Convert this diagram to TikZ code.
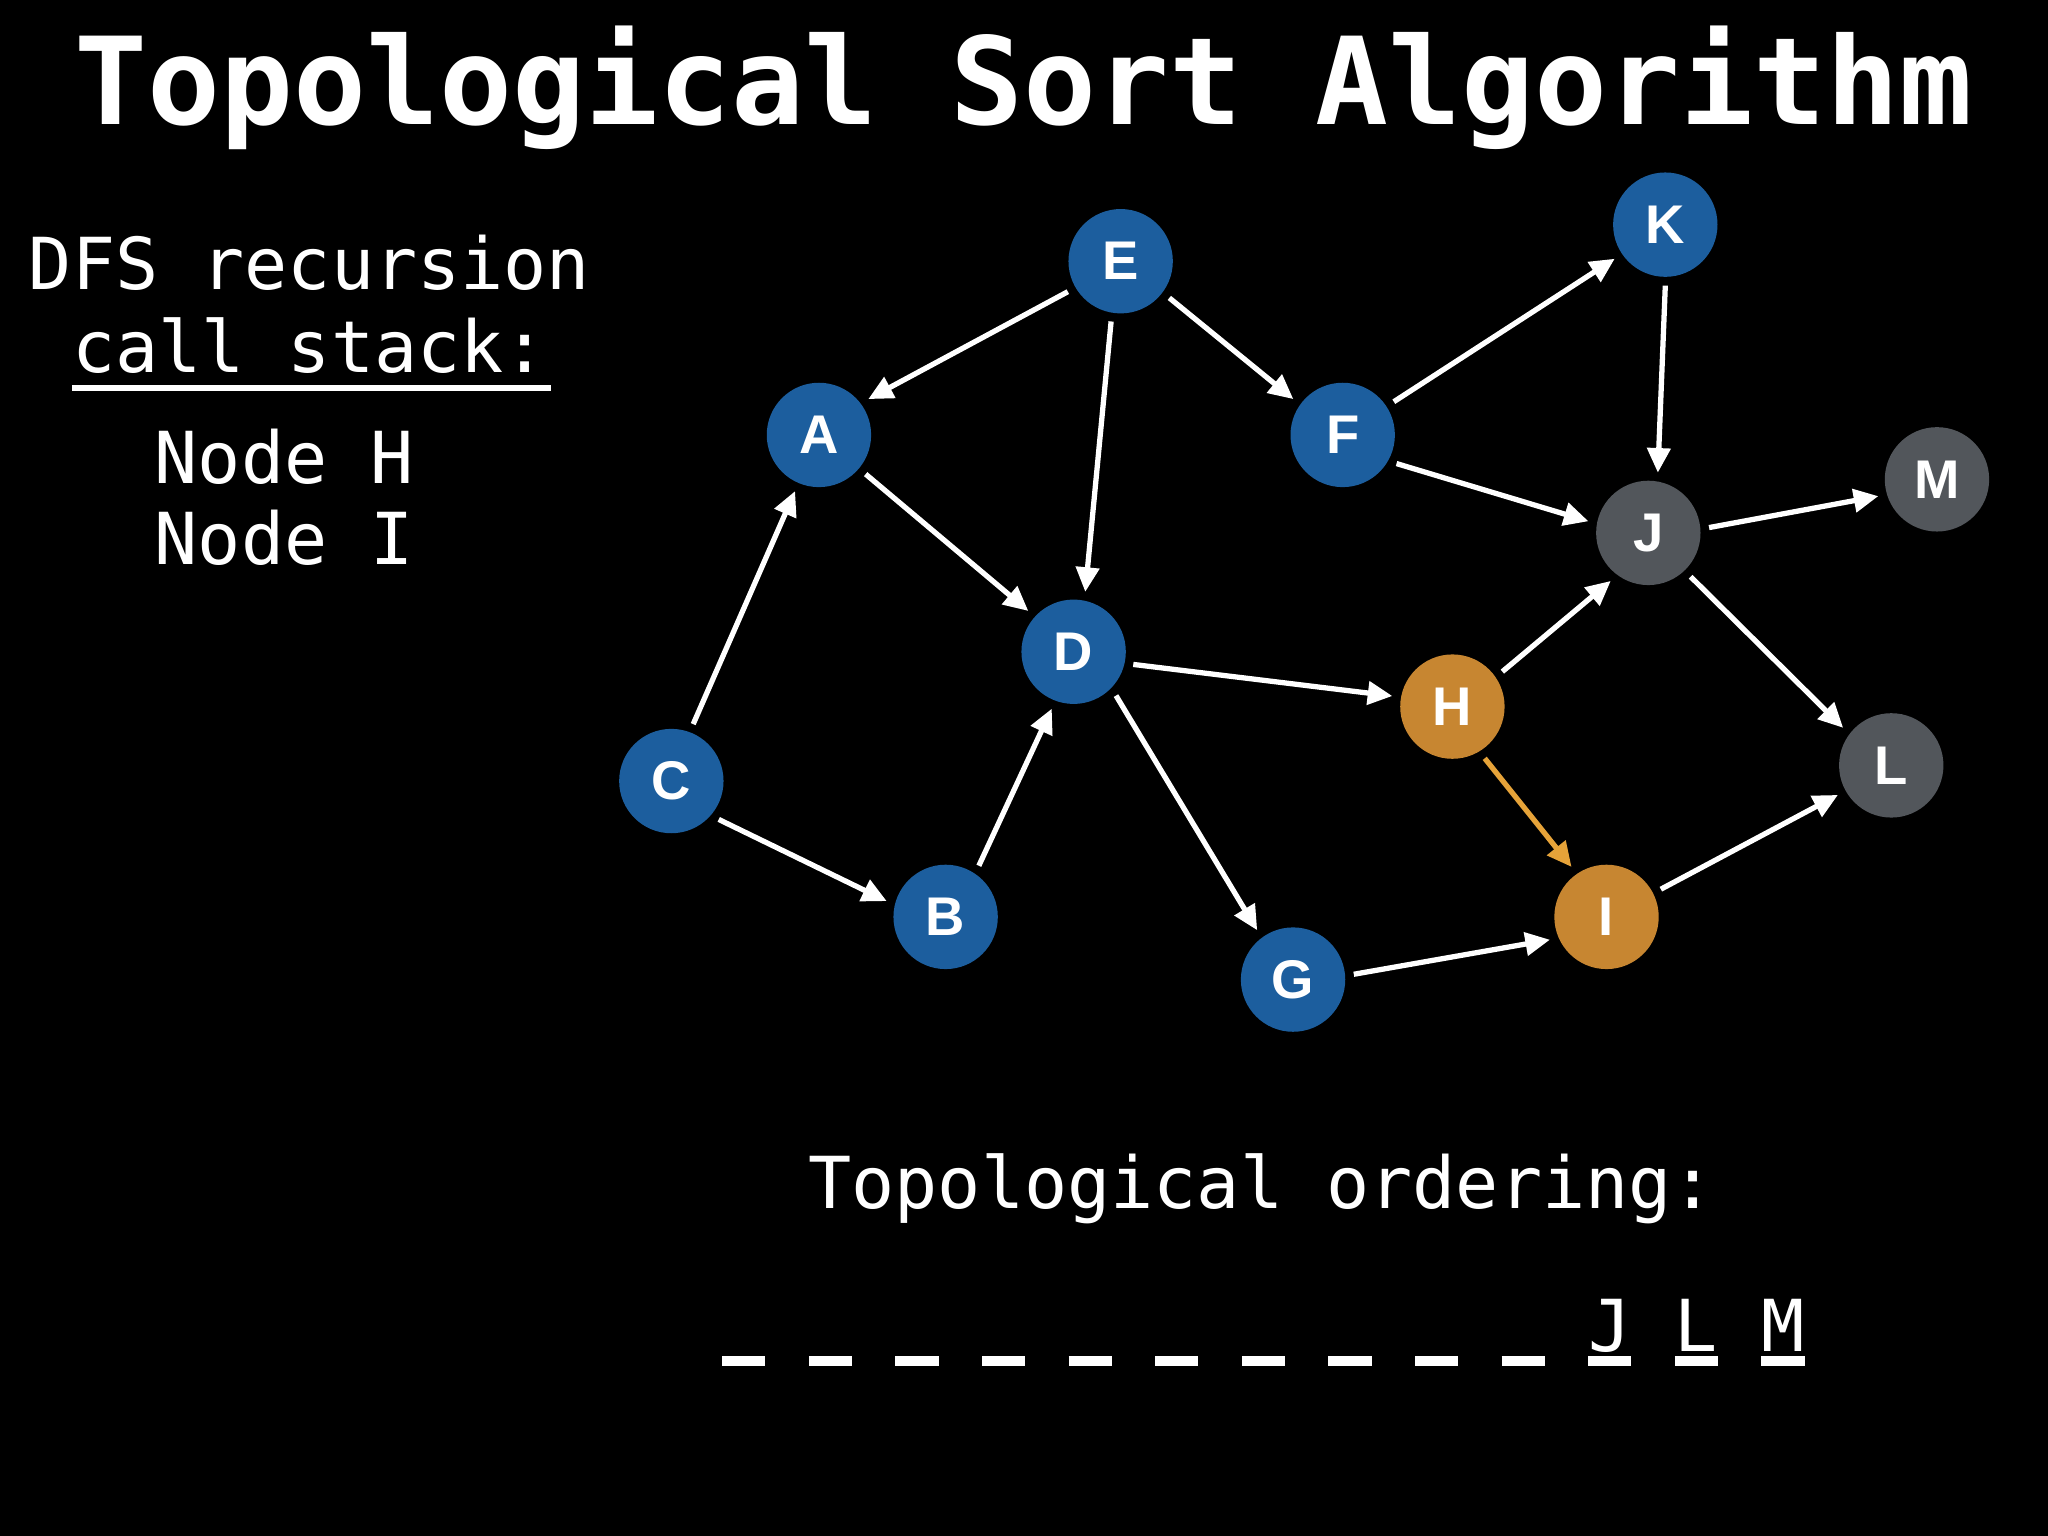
\documentclass[tikz,border=0pt]{standalone}
\usepackage{fontspec}
\usepackage{xcolor}
\usepackage{tikz}
\usetikzlibrary{arrows.meta}
\newfontfamily\monofont{DejaVu Sans Mono}
\newfontfamily\labelfont{Liberation Sans}
\definecolor{vblue}{HTML}{1C5E9E}
\definecolor{vgray}{HTML}{52565B}
\definecolor{vorange}{HTML}{C78631}
\definecolor{eorange}{HTML}{E6A339}

\begin{document}
\begin{tikzpicture}[x=0.01306cm,y=-0.01306cm,
vertex/.style={circle,minimum size=29.7pt,inner sep=0pt,outer sep=2.5pt,text=white,
  font=\labelfont\bfseries\fontsize{15.5}{15.5}\selectfont},
edge/.style={-{Triangle[length=7pt,width=6.5pt]},line width=1.5pt,white},
txt/.style={text=white,inner sep=0pt,font=\monofont\fontsize{20.4}{24}\selectfont},
slot/.style={white,line width=2.6pt}]
\fill[black](0,0)rectangle(1568,1176);
\useasboundingbox(0,0)rectangle(1568,1176);
\node[anchor=base,text=white,inner sep=0pt,font=\monofont\bfseries\fontsize{34.5}{40}\selectfont](title)at(784,95){Topological Sort Algorithm};
% call stack
\node[txt,anchor=base](dfs)at(237,222){DFS recursion};
\node[txt,anchor=base](call)at(237,285){call stack:};
\draw[white,line width=1.9pt](55,297)--(422,297);
\node[txt,anchor=base west](stackH)at(118,370){Node H};
\node[txt,anchor=base west](stackI)at(118,432){Node I};
% graph
\node[vertex,fill=vblue](E)at(858,200){E};
\node[vertex,fill=vblue](A)at(627,333){A};
\node[vertex,fill=vblue](F)at(1028,333){F};
\node[vertex,fill=vblue](K)at(1275,172){K};
\node[vertex,fill=vgray](M)at(1483,367){M};
\node[vertex,fill=vgray](J)at(1262,408){J};
\node[vertex,fill=vblue](D)at(822,499){D};
\node[vertex,fill=vorange](H)at(1112,541){H};
\node[vertex,fill=vgray](L)at(1448,586){L};
\node[vertex,fill=vblue](C)at(514,598){C};
\node[vertex,fill=vblue](B)at(724,702){B};
\node[vertex,fill=vorange](I)at(1230,702){I};
\node[vertex,fill=vblue](G)at(990,750){G};
\foreach \a/\p/\b/\q in {E/-150/A/36,E/-99/D/79,E/-37/F/144,A/-40/D/138,C/69/A/-113,
  C/-39/B/165,B/57/D/-111,D/-12/H/170,D/-46/G/126,F/33/K/-146,F/-28/J/169,K/-90/J/81,
  J/5/M/-164,J/-46/L/142,H/35/J/-128,G/5/I/-158,I/27/L/-151}
  \draw[edge](\a.\p)--(\b.\q);
\draw[edge,eorange](H.-58)--(I.125);
% ordering
\node[txt,anchor=base](ordering)at(966,925){Topological ordering:};
\foreach \k in {0,...,12}
  \draw[slot]({553+66.3*\k},1042)--++(33,0);
\foreach \l/\k in {J/10,L/11,M/12}
  \node[txt,anchor=base](o\l)at({569.5+66.3*\k},1035){\l};
\end{tikzpicture}
\end{document}
